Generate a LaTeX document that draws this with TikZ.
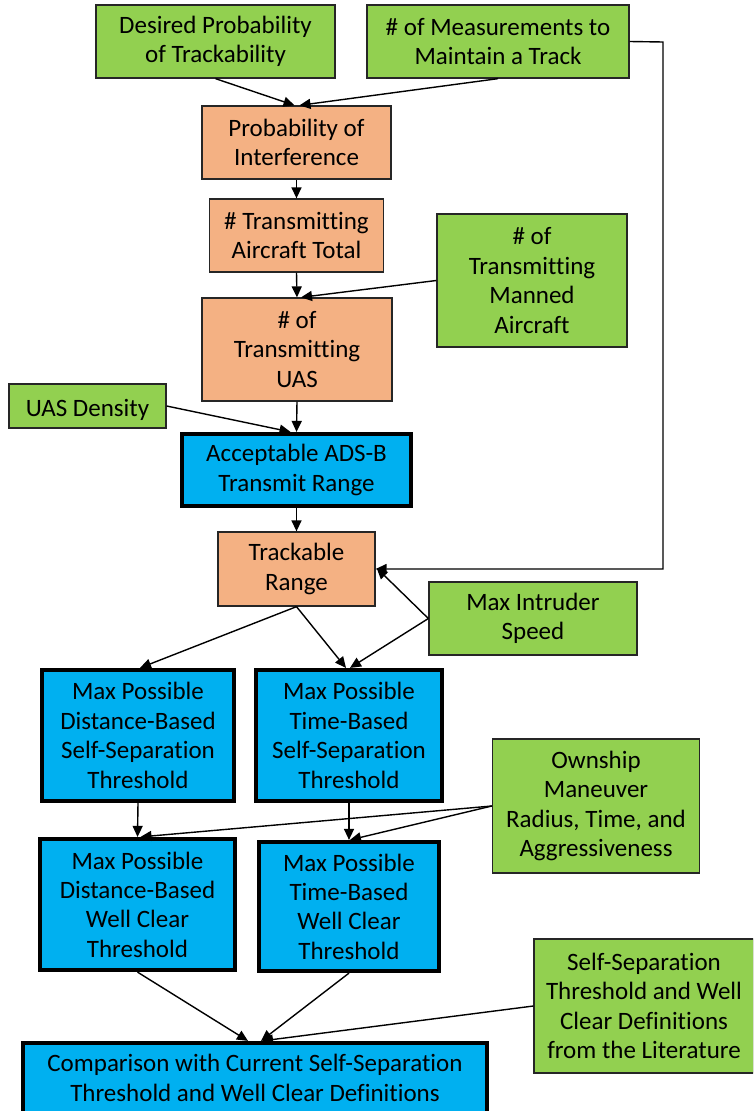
\documentclass[tikz,border=0pt]{standalone}
\usepackage{fontspec}
\setmainfont{Carlito}[Ligatures=NoCommon]
\usetikzlibrary{arrows.meta,calc}
\definecolor{cgreen}{HTML}{92D050}
\definecolor{corange}{HTML}{F4B183}
\definecolor{cblue}{HTML}{00B0F0}
\tikzset{
  box/.style={draw=black!85, line width=1.3pt, inner sep=0pt, align=center,
    font=\fontsize{25}{29.4}\selectfont,
    execute at begin node={\rule{0pt}{25pt}}},
  gbox/.style={box, fill=cgreen},
  obox/.style={box, fill=corange},
  bbox/.style={box, fill=cblue, draw=black, line width=4.2pt},
  arr/.style={line width=1.4pt, -{Triangle[length=11pt,width=10pt]}},
}
\begin{document}
\begin{tikzpicture}[x=1pt,y=-1pt]
\useasboundingbox (0,0) rectangle (753,1111);
\clip (0,0) rectangle (753,1111);
% nodes
\node[gbox, minimum width=239pt, minimum height=73pt] (des) at (215.5,41.5) {Desired Probability\\of Trackability};
\node[gbox, minimum width=262pt, minimum height=73pt] (meas) at (498,41.5) {\# of Measurements to\\Maintain a Track};
\node[obox, minimum width=189pt, minimum height=73pt] (pint) at (296.5,142.5) {Probability of\\Interference};
\node[obox, minimum width=174pt, minimum height=73pt] (tot) at (296.5,235.5) {\# Transmitting\\Aircraft Total};
\node[gbox, minimum width=190pt, minimum height=133pt] (man) at (532,280.5) {\# of\\Transmitting\\Manned\\Aircraft};
\node[obox, minimum width=190pt, minimum height=103pt] (uas) at (297,349.5) {\# of\\Transmitting\\UAS};
\node[gbox, minimum width=157pt, minimum height=44pt] (dens) at (87.5,406) {UAS Density};
\node[bbox, minimum width=229pt, minimum height=72pt] (ads) at (296.5,470) {Acceptable ADS-B\\Transmit Range};
\node[obox, minimum width=157pt, minimum height=74pt] (trk) at (296.5,569) {Trackable\\Range};
\node[gbox, minimum width=208pt, minimum height=73pt] (spd) at (533,618.5) {Max Intruder\\Speed};
\node[bbox, minimum width=192pt, minimum height=131pt] (dss) at (138,735.5) {Max Possible\\Distance-Based\\Self-Separation\\Threshold};
\node[bbox, minimum width=186pt, minimum height=131pt] (tss) at (349,735.5) {Max Possible\\Time-Based\\Self-Separation\\Threshold};
\node[gbox, minimum width=207pt, minimum height=134pt] (own) at (596,806) {Ownship\\Maneuver\\Radius, Time, and\\Aggressiveness};
\node[bbox, minimum width=195pt, minimum height=131pt] (dwc) at (137.5,904.5) {Max Possible\\Distance-Based\\Well Clear\\Threshold};
\node[bbox, minimum width=180pt, minimum height=129pt] (twc) at (349,906.5) {Max Possible\\Time-Based\\Well Clear\\Threshold};
\node[gbox, minimum width=220pt, minimum height=134pt] (lit) at (644,1006) {Self-Separation\\Threshold and Well\\Clear Definitions\\from the Literature};
\node[bbox, minimum width=464pt, minimum height=70pt] (cmp) at (255,1078) {Comparison with Current Self-Separation\\Threshold and Well Clear Definitions};
\coordinate (elb) at (663,42);
% connectors
\draw[arr] (des.south) -- ($(pint.north)+(-2,0)$);
\draw[arr] (meas.south) -- ($(pint.north)+(3,0)$);
\draw[arr] (pint.south) -- (tot.north);
\draw[arr] (tot.south) -- (uas.north);
\draw[arr] (man.west) -- ($(uas.north)+(4,0)$);
\draw[arr] (uas.south) -- (ads.north);
\draw[arr] (dens.east) -- ($(ads.north)+(-6,0)$);
\draw[arr] (ads.south) -- (trk.north);
\draw[arr] (meas.east) -- (elb) |- (trk.east);
\draw[arr] (spd.west) -- ($(trk.east)+(1,-1)$);
\draw[arr] (trk.south) -- ($(dss.north)+(2,0)$);
\draw[arr] (trk.south) -- ($(tss.north)+(-3,0)$);
\draw[arr] (spd.west) -- ($(tss.north)+(1,0)$);
\draw[arr] (dss.south) -- (dwc.north);
\draw[arr] (tss.south) -- (twc.north);
\draw[arr] (own.west) -- ($(dwc.north)+(3,0)$);
\draw[arr] (own.west) -- ($(twc.north)+(1,0)$);
\draw[arr] (dwc.south) -- ($(cmp.north)+(-7,0)$);
\draw[arr] (twc.south) -- ($(cmp.north)+(6,0)$);
\draw[arr] (lit.west) -- ($(cmp.north)+(7,0)$);
\end{tikzpicture}
\end{document}
